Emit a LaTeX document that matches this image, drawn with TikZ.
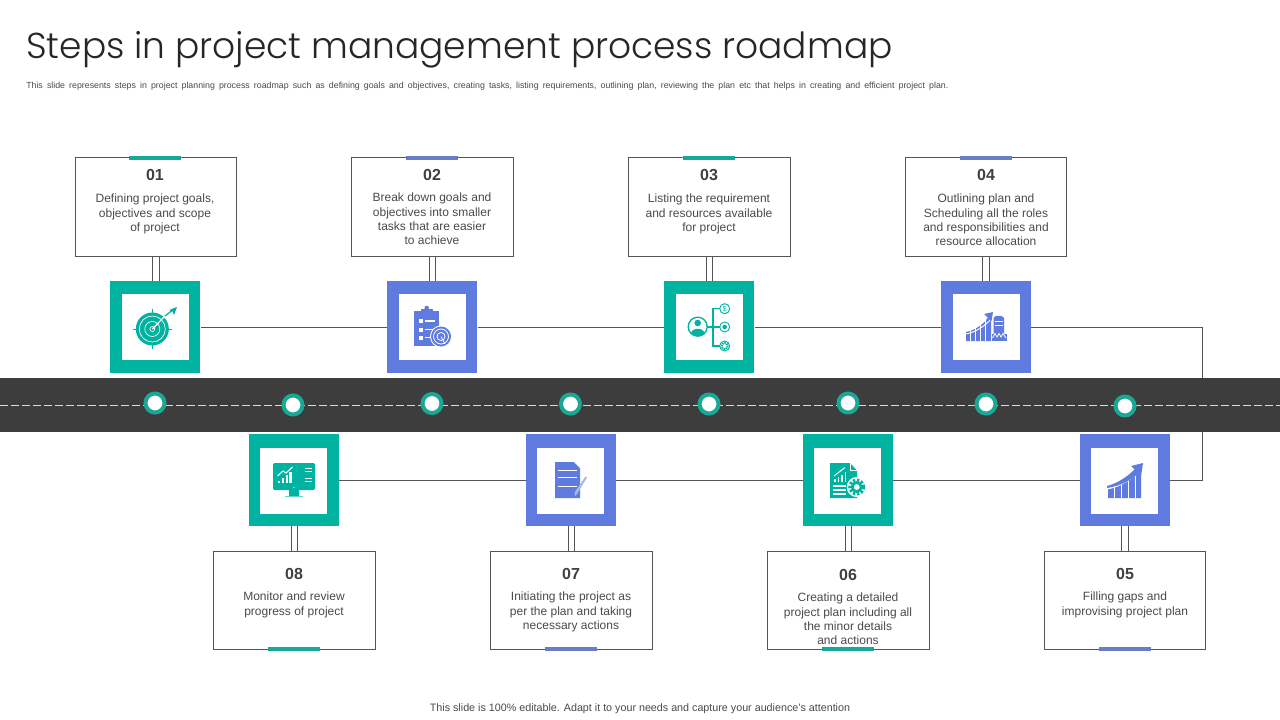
\documentclass[tikz,border=0pt]{standalone}
\usepackage{fontspec}
\setmainfont{Liberation Sans}
\newfontfamily\titlefont{Poppins Light}
\usetikzlibrary{arrows.meta}
\definecolor{tl}{HTML}{00B2A0}
\definecolor{bl}{HTML}{5F7BDF}
\definecolor{tlbar}{HTML}{1AA896}
\definecolor{blbar}{HTML}{6A7EC8}
\definecolor{road}{HTML}{3D3D3D}
\definecolor{ink}{HTML}{404040}
\definecolor{txt}{HTML}{4A4A4A}
\definecolor{ln}{HTML}{555555}
\tikzset{
 x=0.75pt,y=-0.75pt,
 stepbox/.style={draw=ln,line width=0.75pt,fill=white,minimum width=121pt,minimum height=73.5pt,inner sep=0pt},
 outer/.style={fill=#1,minimum width=67.5pt,minimum height=69pt,inner sep=0pt},
 inner/.style={fill=white,minimum width=50.25pt,minimum height=49.5pt,inner sep=0pt},
 accent/.style={fill=#1,minimum width=39pt,minimum height=3pt,inner sep=0pt},
 stepnum/.style={font=\fontsize{12}{14}\selectfont\bfseries,text=ink,inner sep=0pt},
 steptxt/.style={font=\fontsize{9}{10.6}\selectfont,text=txt,align=center,inner sep=0pt,anchor=north},
 link/.style={draw=ln,line width=0.75pt},
 dot/.style={circle,draw=tlbar,line width=3pt,fill=white,minimum size=14.25pt,inner sep=0pt},
}
\begin{document}
\begin{tikzpicture}
\useasboundingbox (0,0) rectangle (1280,720);
\fill[white] (0,0) rectangle (1280,720);
\node[anchor=west,font=\fontsize{27}{33}\selectfont\titlefont,text=black!85,inner sep=0pt] (title) at (26,49.5) {Steps in project management process roadmap};
\node[anchor=west,font=\fontsize{6.6}{8}\selectfont,text=txt,inner sep=0pt] (sub) at (26,86) {\spaceskip 3.1pt\relax This slide represents steps in project planning process roadmap such as defining goals and objectives, creating tasks, listing requirements, outlining plan, reviewing the plan etc that helps in creating and efficient project plan.};
\node[font=\fontsize{8.05}{9}\selectfont,text=txt,inner sep=0pt] (foot) at (640,708.5) {This slide is 100\% editable. Adapt it to your needs and capture your audience's attention};

% step boxes
\node[stepbox] (b1) at (156,207) {};
\node[stepbox] (b2) at (432.5,207) {};
\node[stepbox] (b3) at (709.5,207) {};
\node[stepbox] (b4) at (986,207) {};
\node[stepbox] (b5) at (1125,600.5) {};
\node[stepbox] (b6) at (848.5,600.5) {};
\node[stepbox] (b7) at (571.5,600.5) {};
\node[stepbox] (b8) at (294.5,600.5) {};
% icon squares
\node[outer=tl] (s1) at (155.3,327) {};
\node[outer=bl] (s2) at (432.3,327) {};
\node[outer=tl] (s3) at (709.3,327) {};
\node[outer=bl] (s4) at (986,327) {};
\node[outer=bl] (s5) at (1125,480) {};
\node[outer=tl] (s6) at (848,480) {};
\node[outer=bl] (s7) at (571,480) {};
\node[outer=tl] (s8) at (294,480) {};
\node[inner] (i1) at (155.5,327) {};
\node[inner] (i2) at (432.5,327) {};
\node[inner] (i3) at (709.5,327) {};
\node[inner] (i4) at (986,327) {};
\node[inner] (i5) at (1124.5,480.5) {};
\node[inner] (i6) at (847.5,480.5) {};
\node[inner] (i7) at (570.5,480.5) {};
\node[inner] (i8) at (293.5,480.5) {};
% accents
\node[accent=tlbar] (a1) at (155,158) {};
\node[accent=blbar] (a2) at (432,158) {};
\node[accent=tlbar] (a3) at (709,158) {};
\node[accent=blbar] (a4) at (986,158) {};
\node[accent=blbar] (a5) at (1125,649) {};
\node[accent=tlbar] (a6) at (848,649) {};
\node[accent=blbar] (a7) at (571,649) {};
\node[accent=tlbar] (a8) at (294,649) {};
% connectors
\foreach \k in {1,...,4}{
 \draw[link] ([xshift=-2.5pt]b\k.south) -- ([xshift=-2.5pt]b\k.south |- s\k.north);
 \draw[link] ([xshift=2.5pt]b\k.south) -- ([xshift=2.5pt]b\k.south |- s\k.north);
}
\foreach \k in {5,...,8}{
 \draw[link] ([xshift=-2.5pt]b\k.north) -- ([xshift=-2.5pt]b\k.north |- s\k.south);
 \draw[link] ([xshift=2.5pt]b\k.north) -- ([xshift=2.5pt]b\k.north |- s\k.south);
}
\draw[link] (s1.east) -- (s2.west);
\draw[link] (s2.east) -- (s3.west);
\draw[link] (s3.east) -- (s4.west);
\coordinate (turn) at (1202.5,400);
\draw[link] (s4.east) -- (s4.east -| turn) -- (s5.east -| turn) -- (s5.east);
\draw[link] (s5.west) -- (s6.east);
\draw[link] (s6.west) -- (s7.east);
\draw[link] (s7.west) -- (s8.east);
% road
\node[fill=road,minimum width=960pt,minimum height=40.5pt,inner sep=0pt] (rd) at (640,405) {};
\coordinate (dl) at (0,405.5);
\coordinate (dr) at (1280,405.5);
\draw[draw=white!85!black,line width=0.8pt,dash pattern=on 6pt off 2.25pt] (dl) -- (dr);
\node[dot] (c1) at (155,403) {};
\node[dot] (c2) at (293,405) {};
\node[dot] (c3) at (432,403.5) {};
\node[dot] (c4) at (570.5,404) {};
\node[dot] (c5) at (709,404) {};
\node[dot] (c6) at (848,403) {};
\node[dot] (c7) at (986,404) {};
\node[dot] (c8) at (1125,406) {};
% numbers
\node[stepnum] (n1) at (155,175) {01};
\node[stepnum] (n2) at (432,175) {02};
\node[stepnum] (n3) at (709,175) {03};
\node[stepnum] (n4) at (986,175) {04};
\node[stepnum] (n5) at (1125,574) {05};
\node[stepnum] (n6) at (848,575) {06};
\node[stepnum] (n7) at (571,574) {07};
\node[stepnum] (n8) at (294,574) {08};
% texts
\node[steptxt] (t1) at (155,194) {Defining project goals,\\objectives and scope\\of project};
\node[steptxt] (t2) at (432,193) {Break down goals and\\objectives into smaller\\tasks that are easier\\to achieve};
\node[steptxt] (t3) at (709,194) {Listing the requirement\\and resources available\\for project};
\node[steptxt] (t4) at (986,194) {Outlining plan and\\Scheduling all the roles\\and responsibilities and\\resource allocation};
\node[steptxt] (t5) at (1125,592) {Filling gaps and\\improvising project plan};
\node[steptxt] (t6) at (848,593) {Creating a detailed\\project plan including all\\the minor details\\and actions};
\node[steptxt] (t7) at (571,592) {Initiating the project as\\per the plan and taking\\necessary actions};
\node[steptxt] (t8) at (294,592) {Monitor and review\\progress of project};

% ICON 1 target
\draw[tl,line width=0.75pt] (152.3,309) -- (152.3,349) (132.5,329) -- (172,329);
\fill[tl] (152.3,329) circle[radius=16.5];
\draw[white,line width=0.5pt] (152.3,329) circle[radius=13] (152.3,329) circle[radius=7.5] (152.3,329) circle[radius=2.5];
\draw[white,line width=0.9pt] (152.3,329) -- (165,316);
\draw[tl,line width=0.9pt] (165,316) -- (174,309);
\fill[tl] (177,307) -- (174,315) -- (172.5,311.5) -- (169,310) -- cycle;
% ICON 2 clipboard
\fill[bl] (414.3,311) rectangle (439,345.5);
\fill[bl] (421,313) rectangle (432.5,308.5);
\fill[bl] (426.7,308) circle[radius=2.3];
\foreach \yy in {321,329.5,337.5}{
 \fill[white] (418.5,\yy-2) rectangle (423,\yy+2);
 \draw[white,line width=0.9pt] (425,\yy) -- (435,\yy);
}
\fill[white] (441,336.5) circle[radius=11];
\fill[bl] (441,336.5) circle[radius=10];
\draw[white,line width=0.6pt] (441,336.5) circle[radius=7.5] (441,336.5) circle[radius=4];
\draw[white,line width=0.6pt] (441,336.5) -- (445,344);
% ICON 3 network
\draw[tl,line width=1pt] (697.7,326.7) circle[radius=9.5];
\fill[tl] (697.7,323) circle[radius=3.3];
\fill[tl] (691,334) .. controls (691,327) and (704.5,327) .. (704.5,334) .. controls (701,336.5) and (694,336.5) .. (691,334) -- cycle;
\draw[tl,line width=0.8pt] (707.2,327) -- (719.7,327) (719.7,308.7) -- (713,308.7) -- (713,346) -- (719.7,346);
\draw[tl,line width=0.7pt] (724.7,308.7) circle[radius=5] (724.7,327) circle[radius=5] (724.7,346) circle[radius=5];
\node[font=\fontsize{5.5}{6}\selectfont,text=tl,inner sep=0pt] (dollar) at (724.7,308.7) {\$};
\fill[tl] (724.7,327) circle[radius=2.3];
\draw[tl,line width=1.4pt,dash pattern=on 1pt off 0.7pt] (724.7,346) circle[radius=3];
% ICON 4 chart and tank
\fill[bl] (966,341) -- (966,332) .. controls (976,330) and (984,324) .. (989,316) -- (991,319) -- (991,341) -- cycle;
\foreach \xx in {970.5,975.5,980.5,985.5}{
 \draw[white,line width=0.6pt] (\xx,341) -- (\xx,320);
}
\draw[white,line width=0.7pt] (966,334) .. controls (976,332) and (985,326) .. (991,319);
\fill[bl] (993,312) -- (984,314) -- (991.5,321) -- cycle;
\fill[bl] (993.5,318) .. controls (994,315) and (1003.5,315) .. (1004,318) -- (1004,334) -- (993.5,334) -- cycle;
\fill[bl] (992,334) rectangle (1007,341);
\draw[white,line width=0.4pt] (995,321.5) -- (1002.5,321.5) (995,325) -- (1002.5,325);
\draw[white,line width=0.6pt] (992.5,338) -- (995,333.5) -- (997,337) -- (999,333.5) -- (1001,337) -- (1003,333.5) -- (1006,338);
% ICON 5 growth
\fill[bl] (1108,498) -- (1108,489) .. controls (1120,486) and (1131,480) .. (1141,470) -- (1141,498) -- cycle;
\foreach \xx in {1114.5,1121.5,1128.5,1135}{
 \draw[white,line width=0.7pt] (\xx,498) -- (\xx,472);
}
\draw[white,line width=0.8pt] (1107,489) .. controls (1120,486.5) and (1131,480) .. (1142,469);
\fill[bl] (1107,486) .. controls (1118,483) and (1127,477) .. (1135,469) -- (1139,473) .. controls (1130,481) and (1120,486) .. (1107,488) -- cycle;
\fill[bl] (1143,463) -- (1131,466) -- (1141,476) -- cycle;
% ICON 6 document with gear
\fill[tl] (830,463) -- (850,463) -- (857,470.5) -- (857,498) -- (830,498) -- cycle;
\draw[white,line width=0.5pt] (850,463) -- (850,470.5) -- (857,470.5);
\foreach \xx/\tp in {834/479,837.5/477,841/474.5,844.5/472}{
 \fill[white] (\xx,\tp) rectangle (\xx+1.8,481.5);
}
\draw[white,line width=0.7pt] (834,476) -- (845,467.5);
\draw[white,line width=0.8pt] (833,486) -- (846,486) (833,490) -- (846,490) (833,494) -- (846,494);
\fill[white] (856.7,487) circle[radius=10];
\draw[tl,line width=2.2pt,dash pattern=on 1.8pt off 1.3pt] (856.7,487) circle[radius=7];
\draw[tl,line width=2pt] (856.7,487) circle[radius=4.5];
% ICON 7 document
\fill[bl] (555,462) -- (574,462) -- (580,468) -- (580,498) -- (555,498) -- cycle;
\draw[white,line width=0.7pt] (558,470.5) -- (577,470.5) (558,477.5) -- (577,477.5) (558,486) -- (577,486);
\fill[white] (574,462) -- (580,462) -- (580,468) -- cycle;
\fill[bl!55] (585.5,476.5) -- (587,477.5) -- (577,494) -- (575,496) -- (574.5,492.5) -- cycle;
% ICON 8 monitor
\fill[tl,rounded corners=1pt] (273,463) rectangle (315,490);
\fill[tl] (289,490) rectangle (299,496);
\draw[tl!60,line width=0.5pt] (285,496.5) -- (303,496.5);
\fill[white] (294,487.5) circle[radius=0.7];
\foreach \xx/\tp in {278/481,281.8/478,285.6/475,289.4/472}{
 \fill[white] (\xx,\tp) rectangle (\xx+2.2,483);
}
\draw[white,line width=0.8pt] (277.5,476) -- (283,471) -- (286,473) -- (292.5,467);
\draw[white,line width=0.7pt] (304.5,468) -- (311.5,468) (304.5,471) -- (311.5,471) (304.5,478) -- (311.5,478) (304.5,481) -- (311.5,481);
\end{tikzpicture}
\end{document}
